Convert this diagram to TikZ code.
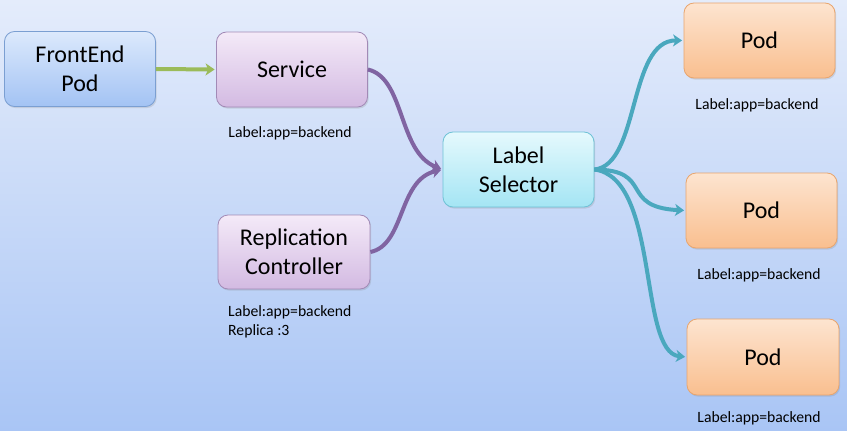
\documentclass[tikz,border=0pt]{standalone}
\usepackage{fontspec}
\setmainfont{Carlito}
\usetikzlibrary{arrows.meta,shadows}
\definecolor{bgtop}{HTML}{E4ECFB}
\definecolor{bgbot}{HTML}{A9C5F5}
\definecolor{greenarrow}{HTML}{9BBB59}
\definecolor{purplearrow}{HTML}{8064A2}
\definecolor{tealarrow}{HTML}{4AA8BE}
\definecolor{HTMLblueb}{HTML}{7B9FD2}
\definecolor{HTMLbluet}{HTML}{DCE9FC}
\definecolor{HTMLblueu}{HTML}{A3C3F4}
\definecolor{HTMLpurpb}{HTML}{A28AB6}
\definecolor{HTMLpurpt}{HTML}{F4EAF8}
\definecolor{HTMLpurpu}{HTML}{D3BAE2}
\definecolor{HTMLcyanb}{HTML}{6EC2D6}
\definecolor{HTMLcyant}{HTML}{E5F9FD}
\definecolor{HTMLcyanu}{HTML}{A4E5F4}
\definecolor{HTMLorab}{HTML}{E8A56E}
\definecolor{HTMLorat}{HTML}{FDE4D0}
\definecolor{HTMLorau}{HTML}{F9BF8F}
\tikzset{
  box/.style={rounded corners=10pt, minimum width=151pt, minimum height=75pt, inner sep=0pt,
    align=center, font=\fontsize{24}{29}\selectfont, line width=0.8pt,
    drop shadow={opacity=0.22, shadow xshift=1.2pt, shadow yshift=-1.6pt}},
  bluebox/.style={box, draw=HTMLblueb, top color=HTMLbluet, bottom color=HTMLblueu},
  purplebox/.style={box, draw=HTMLpurpb, top color=HTMLpurpt, bottom color=HTMLpurpu},
  cyanbox/.style={box, draw=HTMLcyanb, top color=HTMLcyant, bottom color=HTMLcyanu},
  orangebox/.style={box, draw=HTMLorab, top color=HTMLorat, bottom color=HTMLorau},
  lbl/.style={font=\fontsize{15.7}{19}\selectfont, inner sep=0pt},
  conn/.style={line width=4pt, shorten >=1.5pt, -{Stealth[length=9pt, width=12pt, inset=2.5pt]}},
}
\begin{document}
\begin{tikzpicture}[x=1pt,y=-1pt]
\fill[top color=bgtop, bottom color=bgbot] (0,0) rectangle (847,431);
\useasboundingbox (0,0) rectangle (847,431);

\node[bluebox] (fe) at (80,69) {FrontEnd\\Pod};
\node[purplebox] (svc) at (292,69.5) {Service};
\node[purplebox, minimum width=152pt, minimum height=74pt] (rc) at (294,252) {Replication\\Controller};
\node[cyanbox] (sel) at (518.5,169.5) {Label\\Selector};
\node[orangebox] (pod1) at (759.5,40.5) {Pod};
\node[orangebox] (pod2) at (761.5,210.5) {Pod};
\node[orangebox, minimum width=152pt, minimum height=76pt] (pod3) at (763,357) {Pod};

\node[lbl] (l1) at (290,133) {Label:app=backend};
\node[lbl, anchor=west, align=left] (l2) at (228,321.5) {Label:app=backend\\Replica :3};
\node[lbl] (l3) at (757,105) {Label:app=backend};
\node[lbl] (l4) at (759,275) {Label:app=backend};
\node[lbl] (l5) at (759,418) {Label:app=backend};

\draw[conn, greenarrow] (fe.east) -- (svc.west);
\draw[conn, purplearrow] (svc.east) .. controls (405,78) and (398,152) .. (sel.west);
\draw[conn, purplearrow] (rc.east) .. controls (405,245) and (398,180) .. (sel.west);
\draw[conn, tealarrow] (sel.east) .. controls (640,165) and (628,40) .. (pod1.west);
\draw[conn, tealarrow] (sel.east) .. controls (655,170) and (618,207) .. (pod2.west);
\draw[conn, tealarrow] (sel.east) .. controls (660,178) and (638,352) .. (pod3.west);
\end{tikzpicture}
\end{document}
